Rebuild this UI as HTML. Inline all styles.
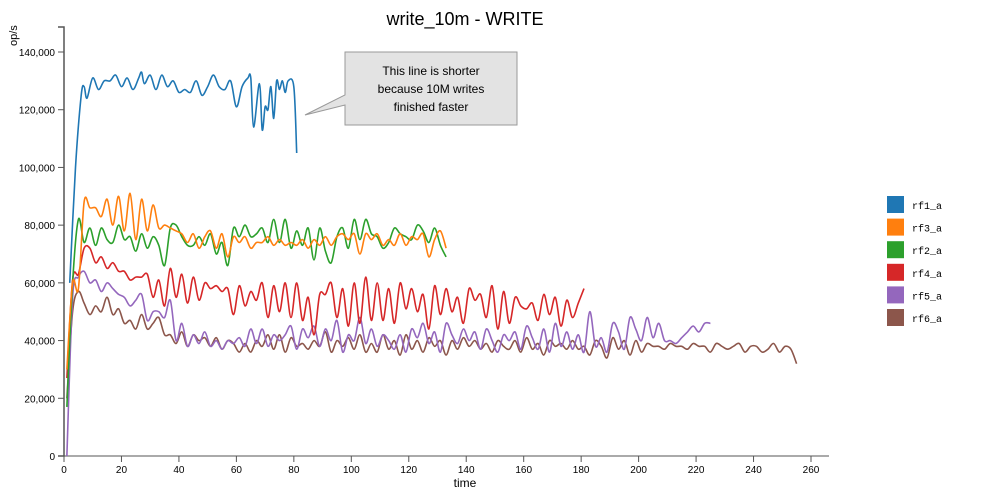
<!DOCTYPE html>
<html><head><meta charset="utf-8"><style>
body{margin:0;background:#fff;}
svg{font-family:"Liberation Sans",sans-serif;}
</style></head><body>
<svg id="c" width="981" height="494">
<text x="465" y="25" font-size="18" text-anchor="middle">write_10m - WRITE</text>
<text x="465" y="487" font-size="12" text-anchor="middle">time</text>
<text transform="translate(17,46) rotate(-90)" font-size="11">op/s</text>
<g id="axes"></g><g id="lines"></g><g id="legend"></g>
<g>
<path d="M345,52 H517 V125 H345 V105 L305,115 L345,95 Z" fill="#e3e3e3" stroke="#999"/>
<text x="431" y="75" font-size="12" text-anchor="middle">This line is shorter</text>
<text x="431" y="93" font-size="12" text-anchor="middle">because 10M writes</text>
<text x="431" y="111" font-size="12" text-anchor="middle">finished faster</text>
</g>
</svg>
<script>
const xTicks=[0,20,40,60,80,100,120,140,160,180,200,220,240,260];
const yTicks=[0,20000,40000,60000,80000,100000,120000,140000];
const seriesNames=["rf1_a","rf3_a","rf2_a","rf4_a","rf5_a","rf6_a"];
const colors=["#1f77b4","#ff7f0e","#2ca02c","#d62728","#9467bd","#8c564b"];
const rf1Times=[2,4,6,7,8,10,12,14,16,18,20,22,24,26,27,28,30,32,34,36,38,40,42,44,46,48,50,52,54,56,58,60,62,64,65,66,68,69,70,71,72,73,74,75,76,77,78,80,81];
const rf1Values=[60000,100000,125000,128000,124000,131000,127000,130000,130000,132000,128000,131000,127000,131000,133000,129000,132000,127000,132000,128000,130000,126000,127000,126000,130000,125000,128000,132000,128000,127000,130000,121000,128000,131000,131000,114000,129000,113000,121000,120000,128000,117000,130000,127000,130000,126000,130000,128000,105000];
const rf3Values=[30000,60000,58000,88000,86000,86000,83000,89000,80000,90000,78000,91000,75000,89000,78000,87000,79000,80000,79000,78000,77000,74000,77000,72000,76000,78000,72000,77000,69000,76000,74000,76000,72000,74000,74000,76000,73000,75000,73000,74000,73000,75000,72000,75000,73000,76000,73000,76000,77000,75000,77000,70000,77000,75000,77000,73000,75000,73000,77000,73000,76000,75000,77000,69000,75000,78000,72000];
const rf2Values=[17000,60000,82000,74000,79000,73000,79000,75000,74000,80000,75000,76000,71000,77000,72000,76000,73000,66000,79000,80000,76000,73000,73000,76000,73000,77000,70000,74000,66000,79000,76000,80000,76000,77000,79000,74000,82000,74000,82000,72000,78000,73000,79000,68000,79000,71000,67000,76000,79000,72000,82000,75000,82000,77000,76000,72000,74000,79000,77000,76000,75000,80000,78000,74000,79000,73000,69000];
const rf4Values=[27000,61000,63000,72000,72000,67000,69000,65000,67000,64000,64000,61000,62000,62000,63000,55000,61000,52000,65000,55000,63000,53000,62000,54000,60000,58000,59000,57000,58000,49000,59000,52000,57000,54000,60000,48000,59000,50000,60000,48000,60000,47000,55000,42000,56000,56000,60000,48000,58000,45000,60000,46000,62000,47000,60000,47000,58000,46000,60000,51000,58000,50000,56000,44000,59000,49000,58000,50000,55000,46000,58000,54000,56000,48000,59000,44000,57000,46000,55000,52000,51000,53000,47000,56000,49000,55000,45000,54000,48000,53000,58000];
const rf5Values=[0,55000,62000,64000,60000,61000,57000,60000,58000,56000,55000,52000,54000,56000,47000,50000,50000,48000,54000,40000,46000,38000,42000,39000,43000,38000,40000,37000,40000,39000,41000,38000,44000,39000,44000,38000,42000,40000,42000,45000,37000,44000,41000,45000,38000,44000,40000,47000,36000,42000,40000,48000,39000,44000,38000,42000,40000,37000,42000,36000,44000,41000,46000,39000,43000,36000,46000,42000,39000,44000,40000,43000,37000,44000,40000,36000,42000,40000,43000,37000,45000,41000,37000,44000,36000,46000,38000,43000,37000,42000,36000,50000,38000,41000,36000,46000,43000,37000,48000,44000,40000,48000,41000,46000,40000,40000,39000,41000,43000,45000,43000,46000,46000];
const rf6Values=[20000,50000,57000,53000,49000,52000,50000,55000,49000,51000,46000,47000,44000,49000,44000,46000,48000,42000,42000,39000,43000,38000,42000,40000,41000,38000,41000,37000,40000,39000,36000,39000,36000,40000,38000,42000,37000,42000,36000,41000,38000,39000,37000,40000,38000,43000,36000,40000,38000,41000,37000,42000,36000,39000,36000,42000,37000,40000,35000,42000,37000,40000,36000,41000,38000,40000,35000,40000,37000,41000,38000,40000,37000,39000,36000,40000,38000,37000,40000,36000,41000,37000,39000,35000,40000,38000,39000,37000,40000,37000,38000,35000,40000,38000,34000,41000,37000,40000,35000,40000,36000,39000,38000,38000,37000,39000,38000,38000,37000,39000,38000,38000,36000,39000,38000,37000,38000,39000,36000,38000,38000,36000,37000,39000,36000,38000,37000,32000];
const stepSeries=[rf3Values,rf2Values,rf4Values,rf5Values,rf6Values];

const NS="http://www.w3.org/2000/svg";
const X0=64,X1=811,Y0=456,Y1=52;
const xs=v=>X0+(v-0)/(260-0)*(X1-X0);
const ys=v=>Y0-(v/140000)*(Y0-Y1);
function mk(tag,attrs,parent){const e=document.createElementNS(NS,tag);for(const k in attrs)e.setAttribute(k,attrs[k]);parent.appendChild(e);return e;}
const axes=document.getElementById('axes');
mk('path',{d:`M${X0-6},${Y1-25}H${X0}V${Y0}H${X0-6}`,fill:'none',stroke:'#555','stroke-width':1.5},axes);
mk('line',{x1:X0,x2:X1+18,y1:Y0,y2:Y0,stroke:'#555','stroke-width':1},axes);
yTicks.forEach(t=>{
  const y=ys(t);
  const l=mk('line',{x1:X0-6,x2:X0,y1:y,y2:y,stroke:'#555'},axes);
  
  
  const tx=mk('text',{x:X0-9,y:y+4,'font-size':10,'text-anchor':'end'},axes);
  tx.textContent=t.toLocaleString('en-US');
  
  
});
xTicks.forEach(t=>{
  const x=xs(t);
  const l=mk('line',{x1:x,x2:x,y1:Y0,y2:Y0+6,stroke:'#555'},axes);
  
  
  const tx=mk('text',{x:x,y:Y0+17,'font-size':10,'text-anchor':'middle'},axes);
  tx.textContent=t;
  
  
});
function smooth(pts){
  let d=`M${pts[0][0]},${pts[0][1]}`;
  for(let i=0;i<pts.length-1;i++){
    const p0=pts[i-1]||pts[i],p1=pts[i],p2=pts[i+1],p3=pts[i+2]||p2;
    const c1=[p1[0]+(p2[0]-p0[0])/6,p1[1]+(p2[1]-p0[1])/6];
    const c2=[p2[0]-(p3[0]-p1[0])/6,p2[1]-(p3[1]-p1[1])/6];
    d+=`C${c1[0].toFixed(1)},${c1[1].toFixed(1)} ${c2[0].toFixed(1)},${c2[1].toFixed(1)} ${p2[0].toFixed(1)},${p2[1].toFixed(1)}`;
  }
  return d;
}
const lines=document.getElementById('lines');
const all=[rf1Values.map((v,i)=>[xs(rf1Times[i]),ys(v)])];
stepSeries.forEach(arr=>all.push(arr.map((v,i)=>[xs(1+2*i),ys(v)])));
for(let s=all.length-1;s>=0;s--){
  const p=mk('path',{d:smooth(all[s]),fill:'none',stroke:colors[s],'stroke-width':1.6},lines);
  
  
}
const lg=document.getElementById('legend');
seriesNames.forEach((n,i)=>{
  const g=mk('g',{},lg);
  
  
  mk('rect',{x:887,y:196+i*22.6,width:17,height:17,fill:colors[i]},g);
  const t=mk('text',{x:912,y:209+i*22.6,'font-size':10,'font-family':'Liberation Mono,monospace'},g);
  t.textContent=n;
});
</script>
</body></html>
